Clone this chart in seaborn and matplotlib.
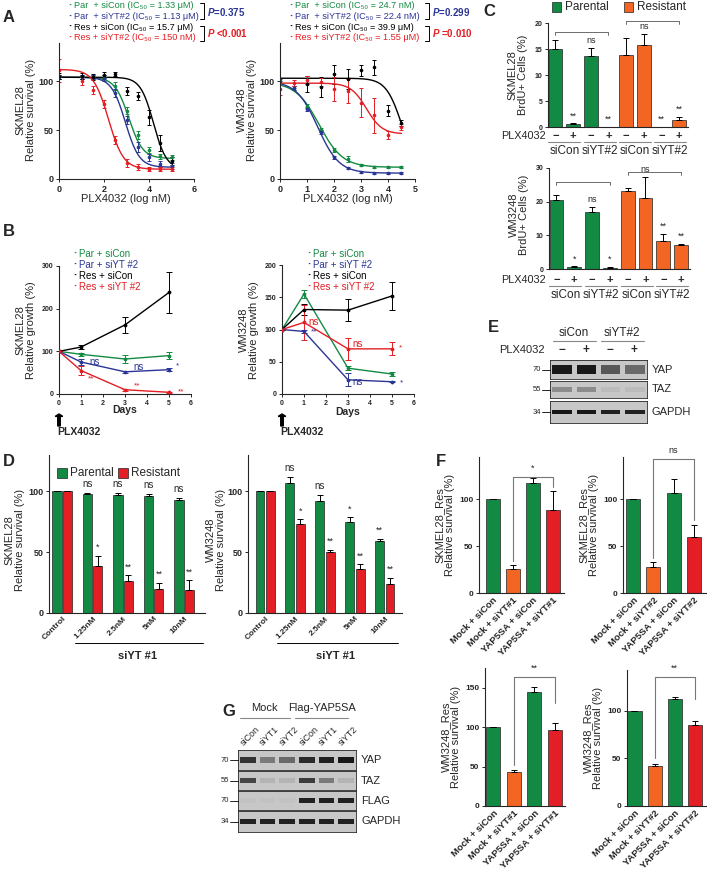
import numpy as np
import pandas as pd
import seaborn as sns
import matplotlib.pyplot as plt
import matplotlib.transforms as mtransforms
from matplotlib.lines import Line2D
from matplotlib.patches import Rectangle

sns.set_style('ticks')
plt.rcParams['font.family'] = ['Liberation Sans', 'DejaVu Sans']
plt.rcParams['mathtext.fontset'] = 'custom'
plt.rcParams['mathtext.rm'] = 'Liberation Sans'
plt.rcParams['mathtext.it'] = 'Liberation Sans:italic:bold'
plt.rcParams['mathtext.bf'] = 'Liberation Sans:bold'
plt.rcParams['axes.linewidth'] = 0.8

GREEN = '#138a43'
BLUE = '#2b3595'
RED = '#e31e24'
ORANGE = '#f26522'
BLACK = '#000000'

# ---- A: dose response (log nM) ----
a_sk_dose = [0, 1, 1.5, 2, 2.5, 3, 3.5, 4, 4.5, 5]
a_sk_par_sicon = [104, 104, 104, 104, 95, 70, 45, 30, 23, 22]
a_sk_par_sicon_err = [2, 2, 2, 2, 4, 4, 4, 3, 3, 3]
a_sk_par_siyt = [104, 104, 104, 103, 88, 60, 33, 22, 15, 13]
a_sk_par_siyt_err = [2, 2, 2, 3, 4, 4, 5, 4, 3, 3]
a_sk_res_sicon = [105, 105, 104, 106, 107, 90, 85, 63, 37, 18]
a_sk_res_sicon_err = [3, 3, 3, 3, 2, 4, 4, 8, 8, 4]
a_sk_res_siyt = [111, 100, 91, 77, 40, 16, 12, 10, 10, 10]
a_sk_res_siyt_err = [12, 4, 4, 4, 4, 4, 3, 2, 2, 2]
# fitted curve parameters: top, bottom, log IC50, hill
a_sk_top = [104, 104, 104, 112]
a_sk_bottom = [21, 12, 10, 10]
a_sk_mid = [3.1, 2.95, 4.2, 2.2]
a_sk_hill = [1.4, 1.4, 1.5, 1.3]

a_wm_dose = [0, 0.5, 1, 1.5, 2, 2.5, 3, 3.5, 4, 4.5]
a_wm_par_sicon = [98, 93, 75, 50, 30, 20, 14, 12, 12, 12]
a_wm_par_sicon_err = [2, 2, 2, 2, 2, 3, 1, 1, 1, 1]
a_wm_par_siyt = [100, 93, 72, 48, 22, 11, 7, 6, 6, 6]
a_wm_par_siyt_err = [2, 2, 2, 2, 2, 1, 1, 1, 1, 1]
a_wm_res_sicon = [np.nan, np.nan, 97, 94, 107, 102, 111, 114, 70, 57]
a_wm_res_sicon_err = [0, 0, 8, 10, 10, 10, 6, 8, 6, 3]
a_wm_res_siyt = [92, 98, 101, 99, 92, 90, 78, 65, 45, 53]
a_wm_res_siyt_err = [6, 3, 4, 4, 12, 12, 15, 18, 4, 3]
a_wm_top = [99, 100, 103, 98]
a_wm_bottom = [12, 6, 10, 46]
a_wm_mid = [1.45, 1.4, 4.5, 3.2]
a_wm_hill = [1.0, 1.1, 1.5, 1.5]

series_names = ['Par + siCon', 'Par + siYT#2', 'Res + siCon', 'Res + siYT#2']
series_colors = [GREEN, BLUE, BLACK, RED]

# ---- B: growth over days ----
b_days = [0, 1, 3, 5]
b_sk_vals = [[100, 93, 82, 90], [100, 75, 52, 57], [100, 110, 162, 238], [100, 55, 10, 4]]
b_sk_errs = [[0, 3, 10, 9], [0, 8, 2, 3], [0, 5, 18, 48], [0, 10, 2, 1]]
b_wm_vals = [[100, 155, 40, 31], [100, 97, 22, 19], [100, 131, 130, 152], [100, 111, 70, 70]]
b_wm_errs = [[0, 6, 3, 3], [0, 3, 10, 1], [0, 8, 17, 22], [0, 27, 17, 10]]

# ---- C: BrdU ----
c_groups = ['Parental'] * 4 + ['Resistant'] * 4
c_plx = ['\u2212', '+'] * 4
c_sirna = ['siCon', 'siYT#2', 'siCon', 'siYT#2']
c_sk_vals = [15, 0.5, 13.6, 0, 13.9, 15.8, 0, 1.3]
c_sk_errs = [1.8, 0.2, 1.5, 0, 3.2, 2.0, 0, 0.6]
c_sk_marks = ['', '**', 'ns', '**', '', 'ns', '**', '**']
c_wm_vals = [20.5, 0.7, 17, 0.4, 23.3, 21.2, 8.2, 7.0]
c_wm_errs = [1.5, 0.1, 1.5, 0.3, 0.8, 6.0, 2.2, 0.5]
c_wm_marks = ['', '*', 'ns', '*', '', 'ns', '**', '**']

# ---- D: siYT #1 dose ----
d_conc = ['Control', '1.25nM', '2.5nM', '5nM', '10nM']
d_sk_par = [100, 98, 97, 96, 93]
d_sk_par_err = [0, 1, 2, 2, 2]
d_sk_res = [100, 39, 26, 20, 19]
d_sk_res_err = [0, 8, 5, 5, 8]
d_sk_par_marks = ['', 'ns', 'ns', 'ns', 'ns']
d_sk_res_marks = ['', '*', '**', '**', '**']
d_wm_par = [100, 107, 92, 75, 59]
d_wm_par_err = [0, 5, 5, 4, 2]
d_wm_res = [100, 73, 50, 36, 24]
d_wm_res_err = [0, 4, 2, 4, 5]
d_wm_par_marks = ['', 'ns', 'ns', '*', '**']
d_wm_res_marks = ['', '*', '**', '**', '**']

# ---- E / G: western blot band intensities (0-1) ----
e_yap = [0.95, 0.95, 0.6, 0.5]
e_taz = [0.3, 0.3, 0.04, 0.04]
e_gapdh = [0.95, 0.95, 0.9, 0.9]
g_lanes = ['siCon', 'siYT1', 'siYT2', 'siCon', 'siYT1', 'siYT2']
g_yap = [0.8, 0.4, 0.5, 0.85, 0.9, 0.95]
g_taz = [0.7, 0.08, 0.08, 0.75, 0.4, 0.08]
g_flag = [0.0, 0.0, 0.0, 0.9, 0.9, 0.9]
g_gapdh = [0.9, 0.9, 0.9, 0.9, 0.9, 0.9]

# ---- F: YAP5SA rescue ----
f_colors = [GREEN, ORANGE, GREEN, RED]
f_labels_1 = ['Mock + siCon', 'Mock + siYT#1', 'YAP5SA + siCon', 'YAP5SA + siYT#1']
f_labels_2 = ['Mock + siCon', 'Mock + siYT#2', 'YAP5SA + siCon', 'YAP5SA + siYT#2']
f_sk1 = [100, 26, 117, 89]
f_sk1_err = [0, 4, 6, 20]
f_sk2 = [100, 28, 107, 60]
f_sk2_err = [0, 5, 15, 12]
f_wm1 = [100, 43, 144, 97]
f_wm1_err = [0, 3, 7, 8]
f_wm2 = [100, 42, 113, 85]
f_wm2_err = [0, 2, 2, 4]

W, H = 707, 874
fig = plt.figure(figsize=(W / 100, H / 100), dpi=100)


def px_axes(l, t, r, b):
    return fig.add_axes([l / W, 1 - b / H, (r - l) / W, (b - t) / H])


def ftext(x, y, s, **kw):
    kw.setdefault('ha', 'left')
    kw.setdefault('va', 'center')
    fig.text(x / W, 1 - y / H, s, **kw)


def fline(xs, ys, **kw):
    kw.setdefault('color', 'black')
    kw.setdefault('lw', 0.7)
    fig.add_artist(Line2D([x / W for x in xs], [1 - y / H for y in ys], **kw))


def fsquare(x, y, color, s=9):
    fig.add_artist(Rectangle((x / W, 1 - (y + s / 2) / H), s / W, s / H,
                             facecolor=color, edgecolor='#222222', lw=0.5))


def xrow(ax):
    return mtransforms.blended_transform_factory(ax.transData, fig.transFigure)


def style(ax, fs=6):
    sns.despine(ax=ax)
    ax.tick_params(labelsize=fs, width=0.7, length=2.5, pad=1.5)
    for t in ax.get_xticklabels() + ax.get_yticklabels():
        t.set_fontweight('bold')


def ylabel(x, y, s, fs=8):
    ftext(x, y, s, rotation=90, ha='center', va='center', fontsize=fs, linespacing=1.1)


def letter(x, y, s):
    ftext(x, y, s, fontsize=12, fontweight='bold')


# ================= A =================
def draw_dose(ax, dose, vals, errs, tops, bots, mids, hills, xmax):
    xs = np.linspace(0, xmax, 200)
    for y, e, c, top, bot, mid, hill in zip(vals, errs, series_colors, tops, bots, mids, hills):
        sns.lineplot(x=xs, y=bot + (top - bot) / (1 + 10 ** (hill * (xs - mid))),
                     ax=ax, color=c, lw=1)
        ax.errorbar(dose, y, yerr=e, fmt='o', ms=1.6, color=c, ecolor=c,
                    elinewidth=0.7, capsize=1.3, capthick=0.7)


ax = px_axes(59, 43, 194, 179)
draw_dose(ax, a_sk_dose,
          [a_sk_par_sicon, a_sk_par_siyt, a_sk_res_sicon, a_sk_res_siyt],
          [a_sk_par_sicon_err, a_sk_par_siyt_err, a_sk_res_sicon_err, a_sk_res_siyt_err],
          a_sk_top, a_sk_bottom, a_sk_mid, a_sk_hill, 5)
ax.set_xlim(0, 6)
ax.set_ylim(0, 139)
ax.set_xticks([0, 2, 4, 6])
ax.set_yticks([0, 50, 100])
style(ax, 6.5)
ftext(126, 199, 'PLX4032 (log nM)', ha='center', fontsize=8)
ylabel(26, 110, 'SKMEL28\nRelative survival (%)')

ax = px_axes(280, 43, 415, 179)
draw_dose(ax, a_wm_dose,
          [a_wm_par_sicon, a_wm_par_siyt, a_wm_res_sicon, a_wm_res_siyt],
          [a_wm_par_sicon_err, a_wm_par_siyt_err, a_wm_res_sicon_err, a_wm_res_siyt_err],
          a_wm_top, a_wm_bottom, a_wm_mid, a_wm_hill, 4.5)
ax.set_xlim(0, 5)
ax.set_ylim(0, 139)
ax.set_xticks([0, 1, 2, 3, 4, 5])
ax.set_yticks([0, 50, 100])
style(ax, 6.5)
ftext(348, 199, 'PLX4032 (log nM)', ha='center', fontsize=8)
ylabel(247, 110, 'WM3248\nRelative survival (%)')

ic50_sk = ['1.33 \u03bcM', '1.13 \u03bcM', '15.7 \u03bcM', '150 nM']
ic50_wm = ['24.7 nM', '22.4 nM', '39.9 \u03bcM', '1.55 \u03bcM']
legend_names = ['Par  + siCon', 'Par  + siYT#2', 'Res + siCon', 'Res + siYT#2']
for x0, ics, bx, pv in [(68, ic50_sk, 200, ['=0.375', ' <0.001']),
                        (289, ic50_wm, 425, ['=0.299', ' =0.010'])]:
    for i, (nm, ic) in enumerate(zip(legend_names, ics)):
        yy = 6 + i * 10.5
        ftext(x0, yy, '\u00b7', color=series_colors[i], fontsize=8, fontweight='bold')
        ftext(x0 + 6, yy, nm + ' (IC\u2085\u2080 = ' + ic + ')',
              color=series_colors[i], fontsize=6.6)
    fline([bx, bx + 4, bx + 4, bx], [3, 3, 19, 19])
    fline([bx, bx + 4, bx + 4, bx], [26, 26, 41, 41])
    ftext(bx + 7, 12, '$\\it{P}$' + pv[0], color=BLUE, fontsize=7, fontweight='bold')
    ftext(bx + 7, 33, '$\\it{P}$' + pv[1], color=RED, fontsize=7, fontweight='bold')
letter(3, 18, 'A')


# ================= B =================
def draw_growth(ax, vals, errs):
    rows = []
    for nm, v in zip(series_names, vals):
        for d, y in zip(b_days, v):
            rows.append({'day': d, 'val': y, 'series': nm})
    df = pd.DataFrame(rows)
    sns.lineplot(data=df, x='day', y='val', hue='series',
                 palette=dict(zip(series_names, series_colors)),
                 lw=1, legend=False, ax=ax)
    for v, e, c in zip(vals, errs, series_colors):
        ax.errorbar(b_days, v, yerr=e, fmt='none', ecolor=c, elinewidth=0.7, capsize=2,
                    capthick=0.7)
        ax.scatter(b_days, v, s=3, color=c, zorder=3)


ax = px_axes(59, 266, 191, 394)
draw_growth(ax, b_sk_vals, b_sk_errs)
ax.set_xlim(0, 6)
ax.set_ylim(0, 300)
ax.set_xticks(range(7))
ax.set_yticks([0, 100, 200, 300])
ax.set_xlabel('')
ax.set_ylabel('')
style(ax, 5)
for x, y, s, c in [(1.4, 74, 'ns', BLUE), (3.4, 63, 'ns', BLUE), (5.3, 66, '*', BLUE),
                   (1.3, 35, '**', RED), (3.4, 18, '**', RED), (5.4, 5, '**', RED)]:
    ax.text(x, y, s, color=c, fontsize=7 if s == 'ns' else 6, ha='left', va='center')
ftext(125, 410, 'Days', ha='center', fontsize=7.5, fontweight='bold')
ylabel(26, 330, 'SKMEL28\nRelative growth (%)')

ax = px_axes(282, 265, 414, 394)
draw_growth(ax, b_wm_vals, b_wm_errs)
ax.set_xlim(0, 6)
ax.set_ylim(0, 200)
ax.set_xticks(range(7))
ax.set_yticks([0, 50, 100, 150, 200])
ax.set_xlabel('')
ax.set_ylabel('')
style(ax, 5)
for x, y, s, c in [(1.2, 112, 'ns', RED), (1.3, 97, '**', BLUE), (3.2, 78, 'ns', RED),
                   (5.3, 72, '*', RED), (3.2, 19, 'ns', BLUE), (5.35, 17, '*', BLUE)]:
    ax.text(x, y, s, color=c, fontsize=7 if s == 'ns' else 6, ha='left', va='center')
ftext(348, 412, 'Days', ha='center', fontsize=7.5, fontweight='bold')
ylabel(249, 330, 'WM3248\nRelative growth (%)')

for x0, lx in [(73, 59), (307, 282)]:
    for i, nm in enumerate(series_names):
        yy = 254 + i * 11
        ftext(x0, yy, '\u00b7', color=series_colors[i], fontsize=8, fontweight='bold')
        ftext(x0 + 6, yy, nm.replace('#', ' #') if 'YT' in nm else nm,
              color=series_colors[i], fontsize=7)
    fig.patches.append(plt.Arrow(lx / W, 1 - 426 / H, 0, 12 / H, width=0.018,
                                 transform=fig.transFigure, color='black', figure=fig))
    ftext(lx + 20, 432, 'PLX4032', ha='center', fontsize=7.5, fontweight='bold')
letter(3, 232, 'B')


# ================= C =================
def draw_brdu(ax, vals, errs, marks, ymax, yticks, row_y, brackets):
    df = pd.DataFrame({'pos': range(8), 'val': vals, 'grp': c_groups})
    sns.barplot(data=df, x='pos', y='val', hue='grp', dodge=False, width=0.78, saturation=1,
                palette={'Parental': GREEN, 'Resistant': ORANGE},
                edgecolor='#222222', linewidth=0.5, legend=False, ax=ax)
    ax.errorbar(range(8), vals, yerr=[np.zeros(8), errs], fmt='none', ecolor='black',
                elinewidth=0.7, capsize=2.2, capthick=0.7)
    for i, (v, e, m) in enumerate(zip(vals, errs, marks)):
        if m:
            ax.text(i, v + e + ymax * 0.03, m, ha='center', va='bottom', fontsize=6.5)
    for (a, b, yb) in brackets:
        ax.plot([a, a, b, b], [yb - ymax * 0.03, yb, yb, yb - ymax * 0.03], color='#555555',
                lw=0.6, clip_on=False)
    ax.set_xlim(-0.42, 7.5)
    ax.set_ylim(0, ymax)
    ax.set_yticks(yticks)
    ax.set_xticks([])
    ax.set_xlabel('')
    ax.set_ylabel('')
    style(ax, 5)
    tr = xrow(ax)
    for i, s in enumerate(c_plx):
        ax.text(i, 1 - row_y / H, s, transform=tr, ha='center', va='center', fontsize=8,
                fontweight='bold')
    for k, s in enumerate(c_sirna):
        ax.plot([2 * k - 0.4, 2 * k + 1.4], [1 - (row_y + 6) / H] * 2, transform=tr,
                color='#888888', lw=0.8, clip_on=False)
        ax.text(2 * k + 0.5, 1 - (row_y + 15) / H, s, transform=tr, ha='center', va='center',
                fontsize=8.5)
    ftext(546, row_y, 'PLX4032', ha='right', fontsize=7.8)


ax = px_axes(548, 23, 688, 127)
draw_brdu(ax, c_sk_vals, c_sk_errs, c_sk_marks, 20, [0, 5, 10, 15, 20], 136,
          [(0, 3, 18.3), (4, 7, 20.4)])
ylabel(518, 75, 'SKMEL28\nBrdU+ Cells (%)')
ax = px_axes(549, 168, 690, 269)
draw_brdu(ax, c_wm_vals, c_wm_errs, c_wm_marks, 30, [0, 10, 20, 30], 280,
          [(0, 3, 25.8), (4, 7, 28.8)])
ylabel(519, 215, 'WM3248\nBrdU+ Cells (%)')
fsquare(552, 7, GREEN)
ftext(565, 7, 'Parental', fontsize=8.5)
fsquare(624, 7, ORANGE)
ftext(637, 7, 'Resistant', fontsize=8.5)
letter(483, 12, 'C')


# ================= blots =================
def band_color(v):
    g = 0.76 - 0.7 * v
    return (g, g, g)


def draw_blot(l, t, r, b, intens, thick=0.5, name=None, mw=None):
    ax = px_axes(l, t, r, b)
    ax.set_facecolor((0.78, 0.78, 0.78))
    n = len(intens)
    ax.bar(range(n), thick, bottom=-thick / 2, width=0.8,
           color=[band_color(v) for v in intens], edgecolor='none')
    ax.set_xlim(-0.5, n - 0.5)
    ax.set_ylim(-1, 1)
    ax.set_xticks([])
    ax.set_yticks([])
    for s in ax.spines.values():
        s.set_linewidth(0.6)
    ym = (t + b) / 2
    if name:
        ftext(r + 5, ym, name, fontsize=8)
    if mw:
        ftext(l - 9, ym, mw, ha='right', fontsize=5.5)
        fline([l - 8, l], [ym, ym], lw=0.6)
    return ax


draw_blot(550, 360, 647, 379, e_yap, 0.85, 'YAP', '70')
draw_blot(550, 381, 647, 398, e_taz, 0.6, 'TAZ', '55')
draw_blot(550, 401, 647, 423, e_gapdh, 0.45, 'GAPDH', '34')
e_lane_x = [562, 586, 610, 634]
for x, s in zip(e_lane_x, c_plx):
    ftext(x, 350, s, ha='center', fontsize=8.5, fontweight='bold')
ftext(545, 350, 'PLX4032', ha='right', fontsize=8)
ftext(574, 333, 'siCon', ha='center', fontsize=8.5)
ftext(622, 333, 'siYT#2', ha='center', fontsize=8.5)
fline([553, 596], [341, 341], color='#888888', lw=0.8)
fline([601, 644], [341, 341], color='#888888', lw=0.8)
letter(488, 328, 'E')

blot_l, blot_r = 238, 356
draw_blot(blot_l, 750, blot_r, 770, g_yap, 0.6, 'YAP', '70')
draw_blot(blot_l, 771, blot_r, 790, g_taz, 0.5, 'TAZ', '55')
draw_blot(blot_l, 791, blot_r, 810, g_flag, 0.6, 'FLAG', '70')
draw_blot(blot_l, 811, blot_r, 832, g_gapdh, 0.45, 'GAPDH', '34')
lane_w = (blot_r - blot_l) / len(g_lanes)
for i, s in enumerate(g_lanes):
    ftext(blot_l + lane_w * (i + 0.5) - 3, 747, s, ha='left', va='bottom', rotation=45,
          fontsize=6.5, rotation_mode='anchor')
ftext(264, 708, 'Mock', ha='center', fontsize=8)
ftext(322, 708, 'Flag-YAP5SA', ha='center', fontsize=8)
fline([240, 290], [718, 718], color='#888888', lw=0.8)
fline([295, 348], [718, 718], color='#888888', lw=0.8)
letter(222, 712, 'G')


# ================= D =================
def draw_d(ax, par, par_err, res, res_err, par_marks, res_marks, xlim):
    df = pd.DataFrame({'conc': d_conc * 2, 'val': par + res,
                       'grp': ['Parental'] * 5 + ['Resistant'] * 5})
    sns.barplot(data=df, x='conc', y='val', hue='grp', width=0.68, gap=0.12, saturation=1,
                palette={'Parental': GREEN, 'Resistant': RED},
                edgecolor='#222222', linewidth=0.5, legend=False, ax=ax)
    for cont, vals, errs, marks in zip(ax.containers, [par, res], [par_err, res_err],
                                       [par_marks, res_marks]):
        xs = [b.get_x() + b.get_width() / 2 for b in cont]
        ax.errorbar(xs, vals, yerr=[np.zeros(5), errs], fmt='none', ecolor='black',
                    elinewidth=0.7, capsize=2, capthick=0.7)
        for x, v, e, m in zip(xs, vals, errs, marks):
            if m:
                ax.text(x, v + e + 3, m, ha='center', va='bottom',
                        fontsize=7 if m == 'ns' else 6.5, clip_on=False)
    ax.set_xlim(*xlim)
    ax.set_ylim(0, 130)
    ax.set_yticks([0, 50, 100])
    ax.set_xlabel('')
    ax.set_ylabel('')
    style(ax, 6.5)
    ax.tick_params(axis='x', length=0)
    ax.set_xticklabels(d_conc, rotation=45, ha='right', rotation_mode='anchor',
                       fontsize=6, fontweight='bold')


ax = px_axes(49, 455, 205, 613)
draw_d(ax, d_sk_par, d_sk_par_err, d_sk_res, d_sk_res_err, d_sk_par_marks, d_sk_res_marks,
       (-0.43, 4.68))
ylabel(15, 540, 'SKMEL28\nRelative survival (%)')
fline([75, 203], [643, 643], lw=0.7)
ftext(138, 656, 'siYT #1', ha='center', fontsize=8, fontweight='bold')

ax = px_axes(248, 455, 402, 613)
draw_d(ax, d_wm_par, d_wm_par_err, d_wm_res, d_wm_res_err, d_wm_par_marks, d_wm_res_marks,
       (-0.57, 4.57))
ylabel(216, 540, 'WM3248\nRelative survival (%)')
fline([277, 398], [643, 643], lw=0.7)
ftext(336, 656, 'siYT #1', ha='center', fontsize=8, fontweight='bold')

fsquare(57, 473, GREEN, 10)
ftext(70, 473, 'Parental', fontsize=8.5)
fsquare(118, 473, RED, 10)
ftext(131, 473, 'Resistant', fontsize=8.5)
letter(3, 462, 'D')


# ================= F =================
def draw_f(box, labels, vals, errs, ymax, yticks, xlim, br, mark, ylab):
    ax = px_axes(*box)
    sns.barplot(x=labels, y=vals, hue=labels, palette=dict(zip(labels, f_colors)),
                width=0.7, saturation=1, edgecolor='#222222', linewidth=0.5,
                legend=False, ax=ax)
    ax.errorbar(range(4), vals, yerr=[np.zeros(4), errs], fmt='none', ecolor='black',
                elinewidth=0.7, capsize=2.2, capthick=0.7)
    lb, rb, top = br
    ax.plot([1, 1, 3, 3], [lb, top, top, rb], color='#777777', lw=0.8, clip_on=False)
    ax.text(2, top + ymax * 0.03, mark, ha='center', va='bottom', fontsize=6.5, clip_on=False)
    ax.set_xlim(*xlim)
    ax.set_ylim(0, ymax)
    ax.set_yticks(yticks)
    ax.set_xlabel('')
    ax.set_ylabel('')
    style(ax, 6)
    ax.tick_params(axis='x', length=0)
    ax.set_xticks(range(4))
    ax.set_xticklabels(labels, rotation=45, ha='right', rotation_mode='anchor', fontsize=6.8)
    ylabel(box[0] - 34, (box[1] + box[3]) / 2, ylab, fs=8)


draw_f((479, 457, 564, 593), f_labels_1, f_sk1, f_sk1_err, 145, [0, 50, 100],
       (-0.7, 3.55), (34, 113, 124), '*', 'SKMEL28_Res\nRelative survival (%)')
draw_f((623, 457, 706, 593), f_labels_2, f_sk2, f_sk2_err, 145, [0, 50, 100],
       (-0.5, 3.6), (37, 78, 143), 'ns', 'SKMEL28_Res\nRelative survival (%)')
draw_f((485, 668, 565, 806), f_labels_1, f_wm1, f_wm1_err, 175, [0, 50, 100, 150],
       (-0.4, 3.5), (52, 130, 164), '**', 'WM3248_Res\nRelative survival (%)')
draw_f((627, 670, 706, 806), f_labels_2, f_wm2, f_wm2_err, 143, [0, 50, 100],
       (-0.37, 3.55), (50, 113, 136), '**', 'WM3248_Res\nRelative survival (%)')
letter(436, 462, 'F')

fig.savefig('out.png', dpi=100)
